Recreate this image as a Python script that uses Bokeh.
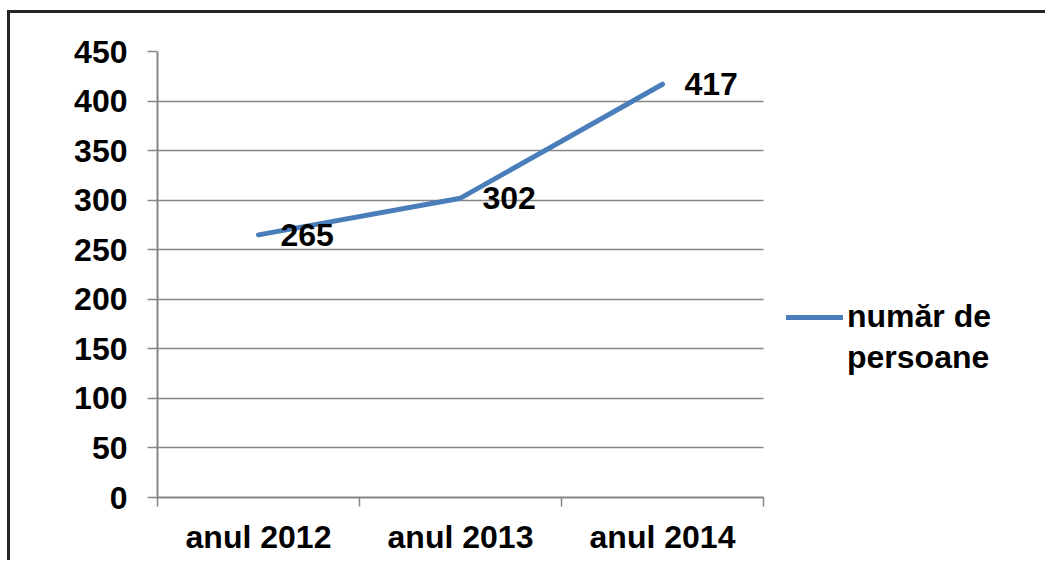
from bokeh.plotting import figure
from bokeh.models import (Range1d, FixedTicker, Legend, LegendItem,
                          ColumnDataSource)
from bokeh.core.properties import value
from bokeh.embed import file_html
from bokeh.resources import INLINE

categories = ["anul 2012", "anul 2013", "anul 2014"]
values = [265, 302, 417]
series_name = ["număr de", "persoane"]
y_ticks = [0, 50, 100, 150, 200, 250, 300, 350, 400, 450]

FONT = "Liberation Sans"
GRAY = "#868686"
BLUE = "#4A7EBB"

FIG_W, FIG_H = 1038, 550
BORDER_L, BORDER_T = 147, 38
BORDER_B = FIG_H - 484
PLOT_W = 606  # pixel width of the category area

n = len(categories)
xs = [i + 0.5 for i in range(n)]
src = ColumnDataSource(dict(x=xs, y=values, lab=[str(v) for v in values]))

x_end = n * (FIG_W - BORDER_L) / PLOT_W  # frame extends to the right edge to host the legend

p = figure(width=FIG_W, height=FIG_H, output_backend="svg", toolbar_location=None,
           x_range=Range1d(0, x_end), y_range=Range1d(0, 450),
           min_border_left=BORDER_L, min_border_right=0, min_border_top=BORDER_T,
           min_border_bottom=BORDER_B)
p.outline_line_color = None
p.background_fill_color = "white"
p.border_fill_color = "white"
p.styles = {"border-left": "3px solid #262626", "border-top": "3px solid #262626",
            "margin-left": "7px", "margin-top": "10px"}

# y axis
p.yaxis.ticker = FixedTicker(ticks=y_ticks, minor_ticks=[])
p.yaxis.major_tick_out = 10
p.yaxis.major_tick_in = 0
p.yaxis.major_tick_line_color = GRAY
p.yaxis.major_tick_line_width = 1.5
p.yaxis.axis_line_color = GRAY
p.yaxis.axis_line_width = 2
p.yaxis.major_label_standoff = 20
p.yaxis.major_label_text_font = FONT
p.yaxis.major_label_text_font_size = "32px"
p.yaxis.major_label_text_font_style = "bold"
p.yaxis.major_label_text_color = "black"

# x axis: labels at category centres, tick marks between categories
p.xaxis.bounds = (0, n)
p.xaxis.ticker = FixedTicker(ticks=xs, minor_ticks=list(range(n + 1)))
p.xaxis.major_label_overrides = {x: c for x, c in zip(xs, categories)}
p.xaxis.major_tick_out = 0
p.xaxis.major_tick_in = 0
p.xaxis.minor_tick_out = 9
p.xaxis.minor_tick_in = 0
p.xaxis.minor_tick_line_color = GRAY
p.xaxis.minor_tick_line_width = 1.5
p.xaxis.axis_line_color = GRAY
p.xaxis.axis_line_width = 2
p.xaxis.major_label_standoff = 12
p.xaxis.major_label_text_font = FONT
p.xaxis.major_label_text_font_size = "32px"
p.xaxis.major_label_text_font_style = "bold"
p.xaxis.major_label_text_color = "black"

p.xgrid.visible = False
p.ygrid.ticker = FixedTicker(ticks=y_ticks)
p.ygrid.grid_line_color = GRAY
p.ygrid.grid_line_width = 1.5
if "cross_bounds" in p.ygrid.properties():
    p.ygrid.cross_bounds = (0, n)
else:
    p.ygrid.visible = False
    p.segment(x0=[0] * len(y_ticks), x1=[n] * len(y_ticks), y0=y_ticks, y1=y_ticks,
              line_color=GRAY, line_width=1.5, level="underlay")

r = p.line("x", "y", source=src, line_color=BLUE, line_width=5,
           line_cap="round", line_join="round")
# invisible companion renderer carrying the legend's second text line
r2 = p.line([], [], line_alpha=0)

p.text("x", "y", text="lab", source=src, x_offset=22, text_align="left",
       text_baseline="middle", text_font=value(FONT), text_font_size="32px",
       text_font_style="bold", text_color="black")

legend = Legend(items=[LegendItem(label=series_name[0], renderers=[r]),
                       LegendItem(label=series_name[1], renderers=[r2])],
                location=(629, 121), padding=0, margin=0, spacing=4,
                glyph_width=57, glyph_height=20, label_standoff=4,
                border_line_alpha=0, background_fill_alpha=0,
                label_text_font=FONT, label_text_font_size="32px",
                label_text_font_style="bold", label_text_color="black")
p.add_layout(legend, "center")

open("out.html", "w").write(file_html(p, INLINE))
